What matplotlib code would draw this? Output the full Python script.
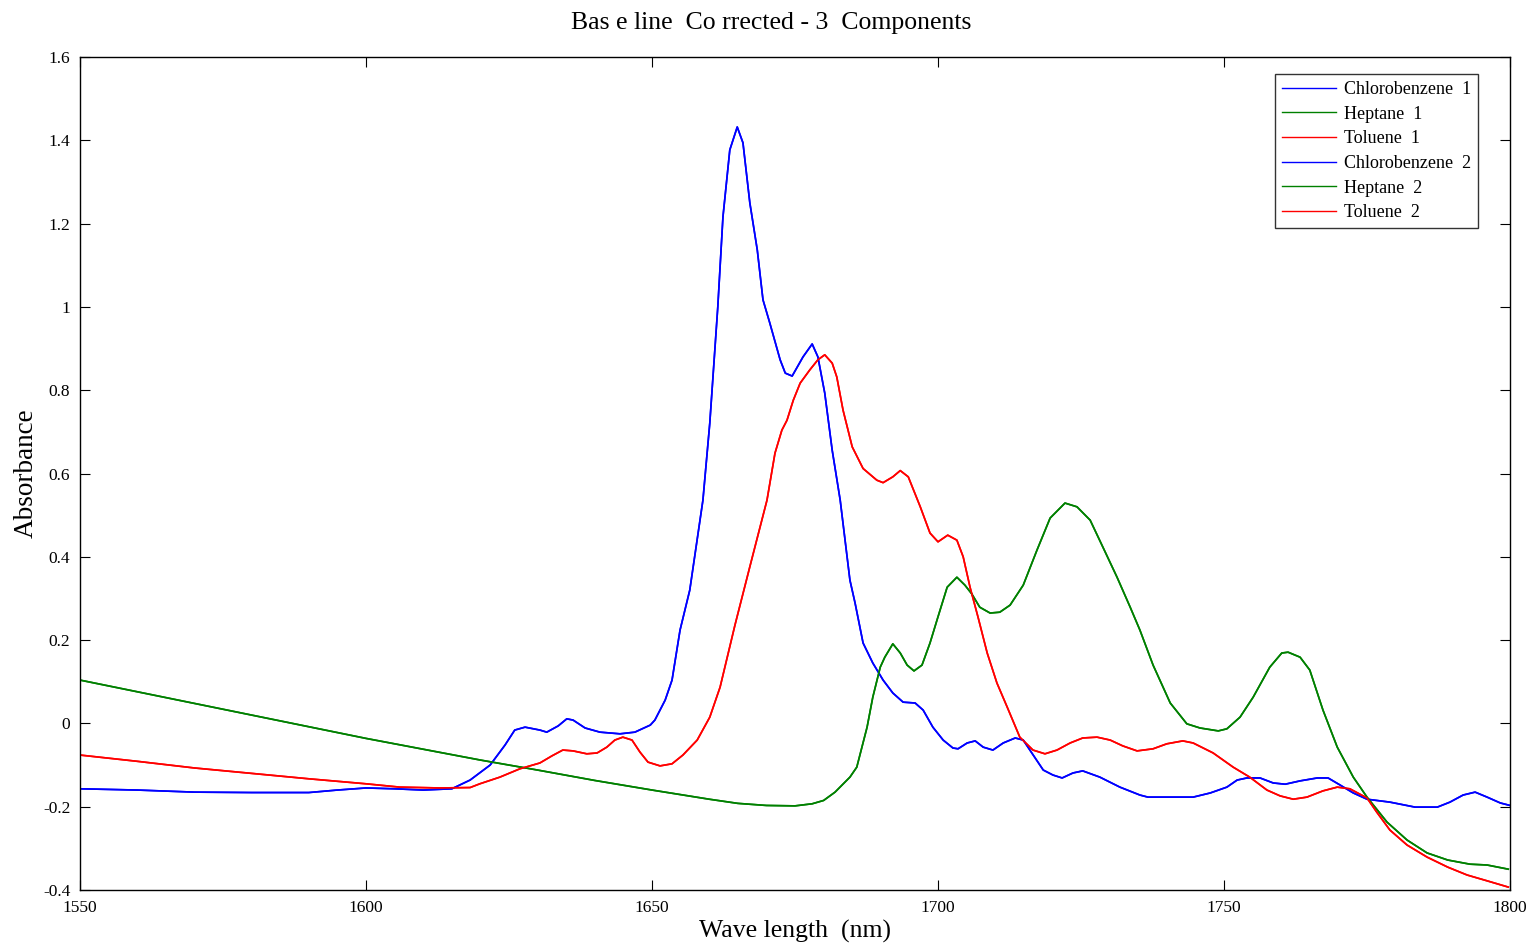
import numpy as np
import matplotlib
matplotlib.use('Agg')
import matplotlib.pyplot as plt

plt.rcParams['font.family'] = ['Liberation Serif', 'DejaVu Serif']

# Chlorobenzene
wl_cb = [1550, 1560, 1570, 1580, 1590, 1595, 1600, 1605, 1610, 1615,
         1618.2, 1621.7, 1624.3, 1626.0, 1627.8, 1630.4, 1631.6, 1633.6, 1635.1, 1636.2,
         1638.3, 1640.9, 1644.4, 1647.0, 1649.7, 1650.5, 1652.3, 1653.5, 1654.9, 1656.6,
         1658.9, 1660.1, 1661.5, 1662.4, 1663.6, 1664.9, 1665.9, 1667.1, 1668.4, 1669.4,
         1670.6, 1672.4, 1673.3, 1674.5, 1676.4, 1678.0, 1679.0, 1680.2, 1681.5, 1682.9,
         1684.6, 1685.5, 1686.9, 1688.6, 1690.4, 1692.1, 1693.9, 1696.0, 1697.4, 1699.1,
         1700.9, 1702.6, 1703.5, 1705.1, 1706.5, 1707.9, 1709.6, 1711.4, 1713.5, 1714.9,
         1716.4, 1718.4, 1720.1, 1721.7, 1723.6, 1725.3, 1728.3, 1731.8, 1735.3, 1736.7,
         1744.6, 1747.6, 1750.5, 1752.3, 1754.0, 1756.3, 1758.6, 1760.7, 1763.3, 1766.3,
         1768.2, 1770.3, 1772.6, 1775.0, 1779.0, 1783.4, 1787.3, 1789.5, 1791.8, 1793.9,
         1796.0, 1798.3, 1800]
abs_cb = [-0.157, -0.16, -0.165, -0.166, -0.166, -0.16, -0.155, -0.157, -0.16, -0.157,
          -0.136, -0.10, -0.052, -0.016, -0.009, -0.016, -0.021, -0.006, 0.011, 0.008,
          -0.011, -0.021, -0.025, -0.021, -0.004, 0.008, 0.056, 0.104, 0.224, 0.32,
          0.536, 0.721, 1.0, 1.216, 1.377, 1.432, 1.394, 1.25, 1.137, 1.017,
          0.961, 0.873, 0.841, 0.834, 0.88, 0.911, 0.88, 0.793, 0.656, 0.536,
          0.344, 0.289, 0.193, 0.145, 0.104, 0.073, 0.051, 0.049, 0.032, -0.009,
          -0.04, -0.059, -0.061, -0.047, -0.042, -0.057, -0.064, -0.047, -0.035, -0.04,
          -0.071, -0.112, -0.124, -0.131, -0.119, -0.114, -0.129, -0.153, -0.172, -0.177,
          -0.177, -0.167, -0.153, -0.136, -0.131, -0.131, -0.143, -0.146, -0.138, -0.131,
          -0.131, -0.148, -0.167, -0.182, -0.189, -0.201, -0.201, -0.189, -0.172, -0.165,
          -0.177, -0.191, -0.197]

# Heptane
wl_hp = [1550, 1560, 1570, 1580, 1590, 1600, 1610, 1620, 1630, 1640,
         1650, 1660, 1665, 1670, 1675, 1678, 1680, 1682, 1684.6, 1685.8,
         1687.6, 1688.6, 1689.9, 1690.7, 1692.1, 1693.4, 1694.6, 1695.8, 1697.2, 1698.6,
         1700.0, 1701.6, 1703.3, 1704.7, 1705.9, 1707.3, 1709.1, 1710.8, 1712.6, 1714.9,
         1717.3, 1719.6, 1722.2, 1724.3, 1726.6, 1728.8, 1731.3, 1733.6, 1735.3, 1737.6,
         1740.6, 1743.5, 1745.8, 1749.0, 1750.5, 1752.8, 1755.1, 1758.0, 1760.1, 1761.2,
         1763.3, 1765.0, 1767.3, 1769.8, 1772.6, 1775.0, 1778.5, 1782.0, 1785.5, 1789.1,
         1793.0, 1796.0, 1799.7]
abs_hp = [0.104, 0.076, 0.048, 0.020, -0.008, -0.036, -0.062, -0.088, -0.112, -0.137,
          -0.16, -0.182, -0.192, -0.197, -0.198, -0.193, -0.185, -0.165, -0.129, -0.105,
          -0.009, 0.063, 0.135, 0.159, 0.191, 0.169, 0.14, 0.126, 0.14, 0.193,
          0.256, 0.327, 0.351, 0.332, 0.311, 0.279, 0.265, 0.267, 0.284, 0.332,
          0.416, 0.493, 0.529, 0.52, 0.488, 0.424, 0.351, 0.279, 0.224, 0.14,
          0.049, -0.001, -0.011, -0.018, -0.013, 0.015, 0.063, 0.135, 0.169, 0.171,
          0.159, 0.128, 0.032, -0.057, -0.129, -0.177, -0.237, -0.28, -0.311, -0.328,
          -0.338, -0.34, -0.35]

# Toluene
wl_tl = [1550, 1560, 1570, 1580, 1590, 1600, 1605.9, 1612.9, 1618.2, 1619.9,
         1623.4, 1626.9, 1630.4, 1632.5, 1634.4, 1636.2, 1638.6, 1640.4, 1642.1, 1643.5,
         1644.9, 1646.5, 1647.9, 1649.3, 1651.4, 1653.5, 1655.4, 1657.9, 1660.1, 1661.9,
         1664.5, 1667.1, 1670.1, 1671.5, 1672.7, 1673.6, 1674.7, 1675.9, 1677.6, 1679.0,
         1680.2, 1681.5, 1682.3, 1683.4, 1685.0, 1686.9, 1689.3, 1690.4, 1692.1, 1693.4,
         1694.8, 1696.9, 1698.6, 1700.0, 1701.7, 1703.3, 1704.4, 1705.6, 1707.0, 1708.6,
         1710.3, 1712.1, 1714.3, 1716.6, 1718.7, 1720.8, 1723.1, 1725.3, 1727.8, 1730.1,
         1732.3, 1734.8, 1737.6, 1740.0, 1742.8, 1744.6, 1748.1, 1751.6, 1754.5, 1757.5,
         1759.8, 1762.1, 1764.5, 1767.3, 1769.8, 1772.0, 1775.0, 1776.7, 1779.0, 1782.0,
         1785.5, 1789.1, 1792.5, 1796.0, 1799.7]
abs_tl = [-0.076, -0.091, -0.107, -0.12, -0.133, -0.145, -0.153, -0.155, -0.154, -0.145,
          -0.129, -0.109, -0.095, -0.078, -0.064, -0.066, -0.073, -0.071, -0.057, -0.04,
          -0.033, -0.04, -0.069, -0.093, -0.102, -0.097, -0.076, -0.04, 0.015, 0.087,
          0.236, 0.376, 0.536, 0.649, 0.704, 0.728, 0.776, 0.817, 0.849, 0.873,
          0.885, 0.865, 0.832, 0.752, 0.664, 0.612, 0.584, 0.578, 0.592, 0.607,
          0.592, 0.52, 0.457, 0.436, 0.452, 0.44, 0.4, 0.327, 0.255, 0.169,
          0.097, 0.039, -0.033, -0.064, -0.073, -0.064, -0.047, -0.035, -0.033, -0.04,
          -0.054, -0.066, -0.061, -0.049, -0.042, -0.047, -0.071, -0.105, -0.129, -0.16,
          -0.174, -0.182, -0.177, -0.162, -0.153, -0.157, -0.179, -0.213, -0.256, -0.292,
          -0.321, -0.345, -0.364, -0.378, -0.393]

x_ticks = [1550, 1600, 1650, 1700, 1750, 1800]
y_ticks = [-0.4, -0.2, 0, 0.2, 0.4, 0.6, 0.8, 1, 1.2, 1.4, 1.6]
y_labels = ['-0.4', '-0.2', '0', '0.2', '0.4', '0.6', '0.8', '1', '1.2', '1.4', '1.6']

fig = plt.figure(figsize=(15.33, 9.44), dpi=100)
ax = fig.add_axes([0.0522, 0.0572, 0.9328, 0.8824])

series = [(wl_cb, abs_cb, '#0000ff', 'Chlorobenzene'),
          (wl_hp, abs_hp, '#008000', 'Heptane'),
          (wl_tl, abs_tl, '#ff0000', 'Toluene')]
for run in (1, 2):
    for wl, a, c, name in series:
        ax.plot(wl, a, color=c, lw=1.2, label='%s  %d' % (name, run))

ax.set_xlim(1550, 1800)
ax.set_ylim(-0.4, 1.6)
ax.set_xticks(x_ticks)
ax.set_yticks(y_ticks)
ax.set_yticklabels(y_labels)
ax.tick_params(direction='in', top=True, right=True, length=7, width=0.8,
               labelsize=12.5, pad=7)
for s in ax.spines.values():
    s.set_linewidth(1.0)

ax.set_title('Bas e line  Co rrected - 3  Components', fontsize=18.5, pad=20, x=0.483)
ax.set_xlabel('Wave length  (nm)', fontsize=18.5, labelpad=3)
ax.set_ylabel('Absorbance', fontsize=19.5, labelpad=3)

leg = ax.legend(loc='upper right', bbox_to_anchor=(0.9776, 0.9796), borderaxespad=0,
                fontsize=13, frameon=True, fancybox=False,
                handlelength=3.0, labelspacing=0.42,
                borderpad=0.4, handletextpad=0.4)
leg.get_frame().set_edgecolor('black')
leg.get_frame().set_linewidth(1.0)
for ln in leg.get_lines():
    ln.set_linewidth(1.0)

fig.savefig('out.png', dpi=100)
